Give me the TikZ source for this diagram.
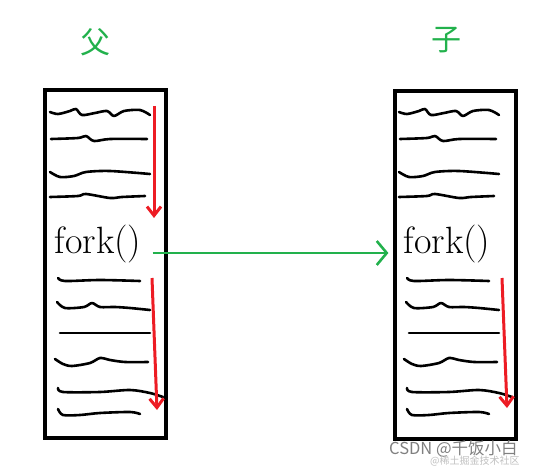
\documentclass[tikz,border=0pt]{standalone}
\usepackage{fontspec}
\newfontfamily\cjk{Noto Sans CJK SC}
\usetikzlibrary{arrows.meta,positioning}
\definecolor{paintgreen}{RGB}{34,177,76}
\definecolor{paintred}{RGB}{237,28,36}
\tikzset{
    codeline/.style={line width=2.6pt, line cap=round, line join=round},
    membox/.style={draw, line width=4pt, minimum width=121pt, minimum height=348pt, inner sep=0pt},
    runflow/.style={paintred, line width=3pt, -{Straight Barb[length=9pt,width=14pt,line width=3pt]}},
    forkflow/.style={paintgreen, line width=2.6pt, -{Straight Barb[length=10pt,width=24pt,line width=2.6pt]}},
    callnode/.style={font=\fontsize{38}{38}\selectfont, inner sep=1pt},
    title/.style={paintgreen, font=\cjk\fontsize{30}{30}\selectfont}
}
\newcommand{\codelines}{%
    \draw[codeline] plot[smooth] coordinates {(50,112) (58,114) (70,111) (76,109) (82,115) (95,113) (107,111) (114,116) (124,111) (140,110) (150,115)};
    \draw[codeline] plot[smooth] coordinates {(51,139) (78,138) (86,136) (94,141) (110,139) (147,139)};
    \draw[codeline] plot[smooth] coordinates {(50,172) (60,177) (74,176) (86,172) (110,171) (150,174)};
    \draw[codeline] plot[smooth] coordinates {(50,197) (78,196) (86,194) (110,198) (122,197) (145,196)};
    \draw[codeline] plot[smooth] coordinates {(58,278) (65,281) (100,280) (140,281)};
    \draw[codeline] plot[smooth] coordinates {(57,302) (65,308) (84,307) (92,303) (100,307) (115,307) (130,308) (150,310)};
    \draw[codeline] plot[smooth] coordinates {(60,333) (150,333)};
    \draw[codeline] plot[smooth] coordinates {(55,359) (63,364) (72,366) (90,363) (100,358) (110,360) (125,362) (148,362)};
    \draw[codeline] plot[smooth] coordinates {(58,388) (63,392) (100,392) (130,390) (150,393) (163,397)};
    \draw[codeline] plot[smooth] coordinates {(58,409) (63,415) (80,415) (100,413) (130,412) (140,414)};
}
\begin{document}
\begin{tikzpicture}[x=1pt, y=-1pt]
    \useasboundingbox (0,0) rectangle (536,468);

    \begin{scope}[shift={(0,0)}]
        \node[membox] (parent) at (105,264) {};
        \node[title] (fu) at (95,42) {父};
        \node[callnode] (forkP) at (98,244) {fork()};
        \codelines
        \coordinate (runP1) at (154,106);
        \coordinate (stopP1) at (154,218);
        \coordinate (runP2) at (152,278);
        \coordinate (stopP2) at (157,410);
        \draw[runflow] (runP1) -- (stopP1);
        \draw[runflow] (runP2) -- (stopP2);
    \end{scope}

    \begin{scope}[shift={(349,0)}]
        \node[membox] (child) at (106,265) {};
        \node[title] (zi) at (97,40) {子};
        \node[callnode] (forkC) at (98,244) {fork()};
        \codelines
        \coordinate (runC) at (153,278);
        \coordinate (stopC) at (158,408);
        \draw[runflow] (runC) -- (stopC);
    \end{scope}

    \draw[forkflow, shorten <=10pt, shorten >=14pt] ([yshift=-9pt]forkP.east) -- ([yshift=-9pt]forkC.west);

    \node[gray, font=\cjk\fontsize{16.5}{16.5}\selectfont, anchor=west, inner sep=0pt] (mark) at (389,449) {CSDN @千饭小白};
    \node[gray!50, font=\cjk\fontsize{10}{10}\selectfont, anchor=west, inner sep=0pt] (mark2) at (430,461) {@稀土掘金技术社区};
\end{tikzpicture}
\end{document}
